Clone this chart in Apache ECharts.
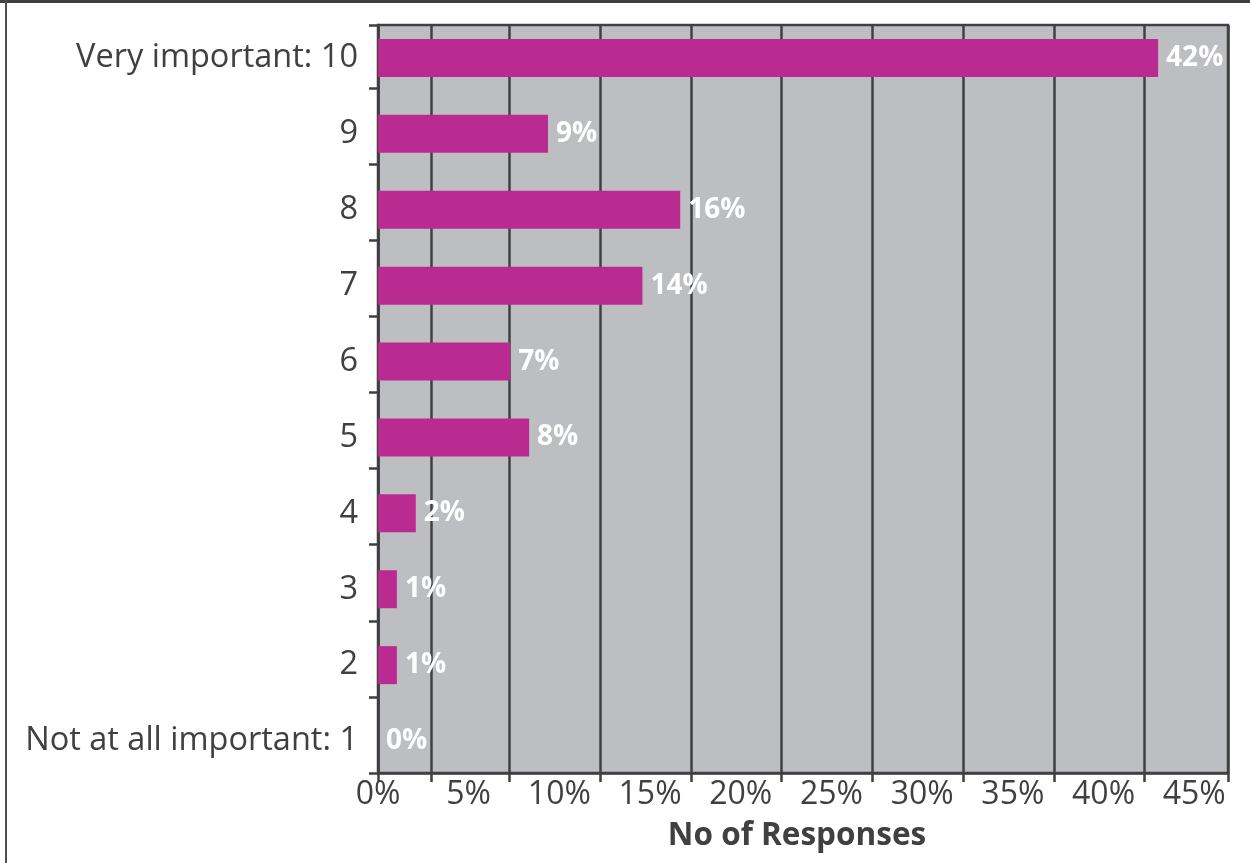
<!DOCTYPE html>
<html>
<head>
<meta charset="utf-8">
<script src="https://cdn.jsdelivr.net/npm/echarts@6/dist/echarts.min.js"></script>
<style>
  html, body { margin: 0; padding: 0; background: #ffffff; }
  #chart { width: 1250px; height: 863px; }
</style>
</head>
<body>
<div id="chart"></div>
<script>
// ---- data ----
const categories = ['Not at all important: 1', '2', '3', '4', '5', '6', '7', '8', '9', 'Very important: 10'];
const shares = [0, 1, 1, 2, 8, 7, 14, 16, 9, 41.3];          // bar lengths in % as drawn
const shareLabels = ['0%', '1%', '1%', '2%', '8%', '7%', '14%', '16%', '9%', '42%'];
const gridValues = [0, 2.81, 6.93, 11.75, 16.57, 21.33, 26.15, 30.97, 35.79, 40.55, 45]; // vertical gridlines
const tickLabelMax = 46.86;  // label scale as printed (0%..45% every 5%)
const axisTitle = 'No of Responses';

const FONT = '"Open Sans", sans-serif';
const DARK = '#404040';

const chart = echarts.init(document.getElementById('chart'), null, { renderer: 'canvas' });
chart.setOption({
  animation: false,
  backgroundColor: '#ffffff',
  title: {
    text: axisTitle,
    left: 792, top: 815, textAlign: 'center',
    textStyle: { fontFamily: FONT, fontSize: 31.5, fontWeight: 'bold', color: DARK }
  },
  graphic: [
    { type: 'rect', shape: { x: 0, y: 0, width: 1250, height: 3 }, style: { fill: DARK } },
    { type: 'rect', shape: { x: 5, y: 0, width: 2, height: 863 }, style: { fill: '#505050' } }
  ],
  grid: [
    { // frame grid
      left: 378, right: 22, top: 25, bottom: 90,
      show: true, backgroundColor: '#bdbec2', borderColor: DARK, borderWidth: 2.5
    },
    { // bars grid
      left: 378, right: 22, top: 20, bottom: 84
    }
  ],
  xAxis: [
    {
      gridIndex: 0, type: 'value', position: 'bottom', min: 0, max: 45,
      axisLine: { show: true, lineStyle: { color: DARK, width: 2.5 } },
      axisTick: { show: true, customValues: gridValues, length: 9, lineStyle: { color: DARK, width: 2.5 } },
      splitLine: { show: true, lineStyle: { color: DARK, width: 2.5 } },
      axisLabel: { show: false }
    },
    {
      gridIndex: 1, type: 'value', min: 0, max: 45, show: false
    },
    {
      gridIndex: 0, type: 'value', position: 'bottom', min: 0, max: tickLabelMax, interval: 5,
      axisLine: { show: false }, axisTick: { show: false }, splitLine: { show: false },
      axisLabel: {
        show: true, showMaxLabel: false, margin: 6,
        fontFamily: FONT, fontSize: 32, color: DARK,
        formatter: v => (v % 5 === 0 ? v + '%' : '')
      }
    }
  ],
  yAxis: [
    {
      gridIndex: 0, type: 'value', min: 0, max: 9.83, interval: 1,
      axisLine: { show: true, lineStyle: { color: DARK, width: 2.5 } },
      axisTick: { show: true, length: 9, lineStyle: { color: DARK, width: 2.5 } },
      splitLine: { show: false },
      axisLabel: { show: false }
    },
    {
      gridIndex: 1, type: 'category', data: categories,
      axisLine: { show: false }, axisTick: { show: false }, splitLine: { show: false },
      axisLabel: { margin: 20, fontFamily: FONT, fontSize: 32.5, color: DARK }
    }
  ],
  series: [{
    type: 'bar',
    xAxisIndex: 1, yAxisIndex: 1,
    data: shares,
    barWidth: 38,
    itemStyle: { color: '#b92b91' },
    label: {
      show: true, position: 'right', distance: 8,
      fontFamily: FONT, fontSize: 28, fontWeight: 'bold', color: '#ffffff',
      formatter: p => shareLabels[p.dataIndex]
    }
  }]
});
</script>
</body>
</html>
